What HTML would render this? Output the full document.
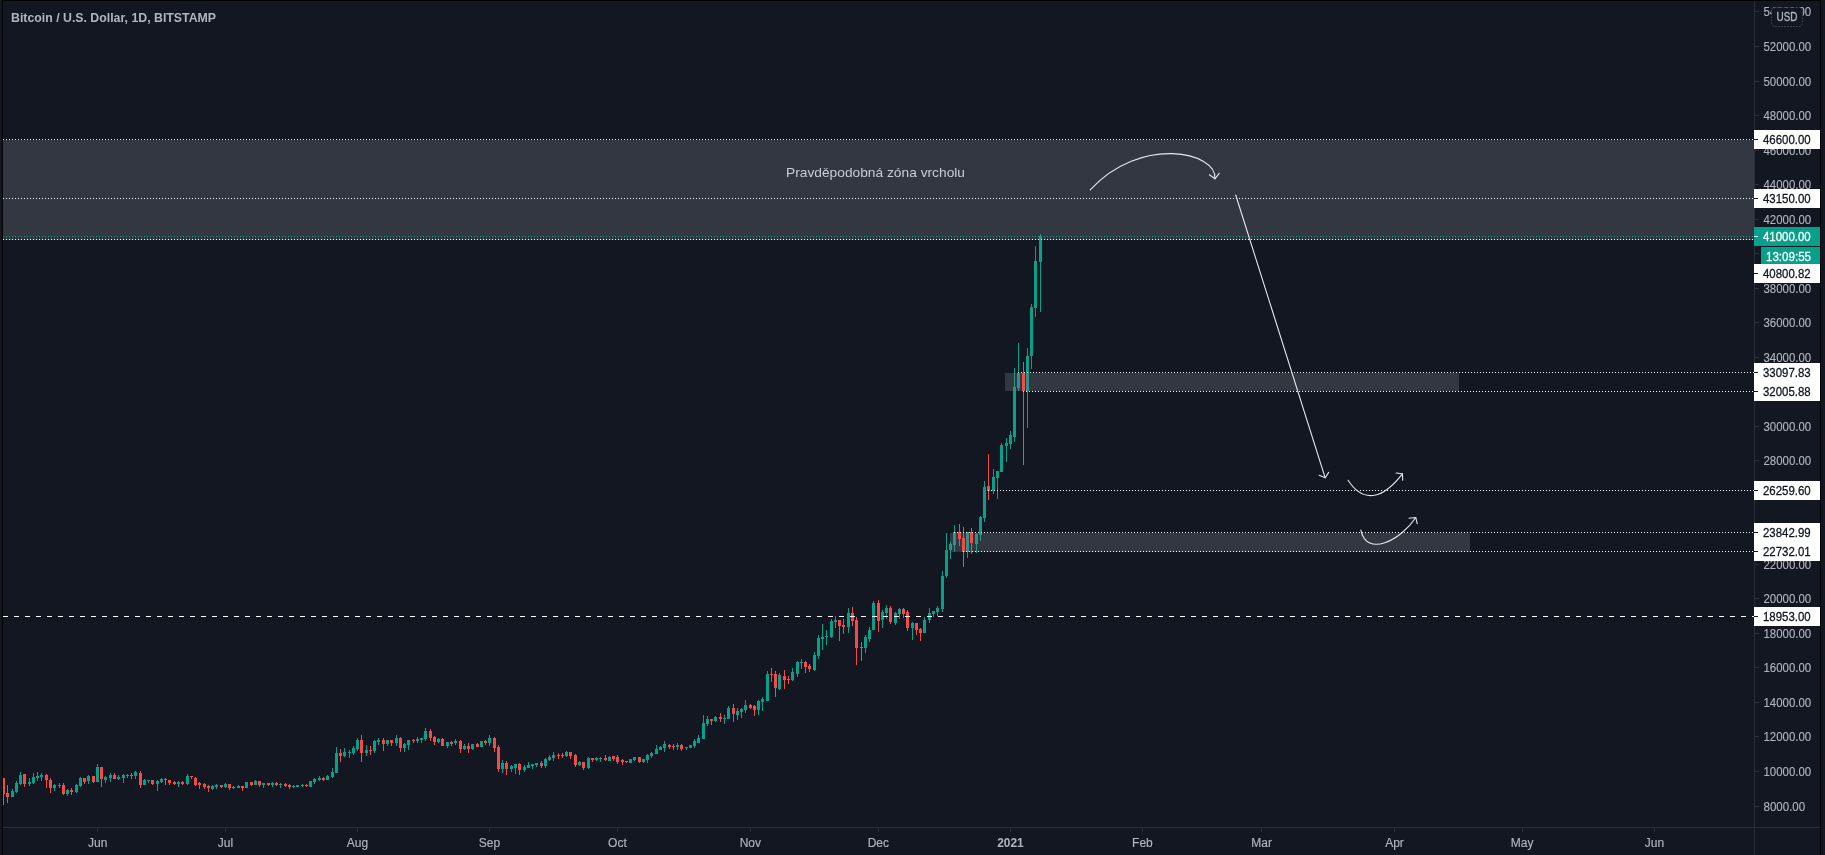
<!DOCTYPE html>
<html><head><meta charset="utf-8"><title>BTCUSD</title>
<style>
html,body{margin:0;padding:0;background:#131722;width:1825px;height:855px;overflow:hidden}
svg{position:absolute;left:0;top:0;display:block;will-change:transform}
text{font-family:"Liberation Sans",sans-serif}
</style></head><body>
<svg width="1825" height="855" viewBox="0 0 1825 855">
<rect x="0" y="0" width="1825" height="855" fill="#131722"/>

<g shape-rendering="crispEdges">
<rect x="12" y="789" width="1" height="8" fill="#08a08a"/>
<rect x="11" y="791" width="3" height="6" fill="#08a08a"/>
<rect x="16" y="781" width="1" height="12" fill="#08a08a"/>
<rect x="15" y="783" width="3" height="9" fill="#08a08a"/>
<rect x="20" y="772" width="1" height="13" fill="#08a08a"/>
<rect x="19" y="775" width="3" height="9" fill="#08a08a"/>
<rect x="29" y="778" width="1" height="8" fill="#08a08a"/>
<rect x="28" y="782" width="3" height="2" fill="#08a08a"/>
<rect x="33" y="773" width="1" height="11" fill="#08a08a"/>
<rect x="32" y="777" width="3" height="6" fill="#08a08a"/>
<rect x="37" y="772" width="1" height="9" fill="#08a08a"/>
<rect x="36" y="776" width="3" height="2" fill="#08a08a"/>
<rect x="41" y="773" width="1" height="8" fill="#08a08a"/>
<rect x="40" y="775" width="3" height="2" fill="#08a08a"/>
<rect x="54" y="784" width="1" height="7" fill="#08a08a"/>
<rect x="53" y="785" width="3" height="3" fill="#08a08a"/>
<rect x="59" y="783" width="1" height="5" fill="#08a08a"/>
<rect x="58" y="785" width="3" height="1" fill="#08a08a"/>
<rect x="67" y="789" width="1" height="7" fill="#08a08a"/>
<rect x="66" y="790" width="3" height="4" fill="#08a08a"/>
<rect x="76" y="784" width="1" height="9" fill="#08a08a"/>
<rect x="75" y="785" width="3" height="7" fill="#08a08a"/>
<rect x="80" y="777" width="1" height="10" fill="#08a08a"/>
<rect x="79" y="778" width="3" height="8" fill="#08a08a"/>
<rect x="88" y="775" width="1" height="9" fill="#08a08a"/>
<rect x="87" y="776" width="3" height="5" fill="#08a08a"/>
<rect x="97" y="764" width="1" height="18" fill="#08a08a"/>
<rect x="96" y="767" width="3" height="15" fill="#08a08a"/>
<rect x="105" y="776" width="1" height="7" fill="#08a08a"/>
<rect x="104" y="777" width="3" height="3" fill="#08a08a"/>
<rect x="110" y="773" width="1" height="9" fill="#08a08a"/>
<rect x="109" y="775" width="3" height="3" fill="#08a08a"/>
<rect x="118" y="775" width="1" height="5" fill="#08a08a"/>
<rect x="117" y="777" width="3" height="2" fill="#08a08a"/>
<rect x="123" y="774" width="1" height="9" fill="#08a08a"/>
<rect x="122" y="775" width="3" height="3" fill="#08a08a"/>
<rect x="127" y="774" width="1" height="4" fill="#08a08a"/>
<rect x="126" y="775" width="3" height="1" fill="#08a08a"/>
<rect x="135" y="771" width="1" height="8" fill="#08a08a"/>
<rect x="134" y="772" width="3" height="4" fill="#08a08a"/>
<rect x="144" y="779" width="1" height="6" fill="#08a08a"/>
<rect x="143" y="780" width="3" height="5" fill="#08a08a"/>
<rect x="148" y="780" width="1" height="3" fill="#08a08a"/>
<rect x="147" y="780" width="3" height="1" fill="#08a08a"/>
<rect x="157" y="780" width="1" height="11" fill="#08a08a"/>
<rect x="156" y="781" width="3" height="3" fill="#08a08a"/>
<rect x="161" y="778" width="1" height="5" fill="#08a08a"/>
<rect x="160" y="779" width="3" height="3" fill="#08a08a"/>
<rect x="178" y="781" width="1" height="6" fill="#08a08a"/>
<rect x="177" y="782" width="3" height="2" fill="#08a08a"/>
<rect x="187" y="774" width="1" height="11" fill="#08a08a"/>
<rect x="186" y="776" width="3" height="8" fill="#08a08a"/>
<rect x="212" y="785" width="1" height="5" fill="#08a08a"/>
<rect x="211" y="786" width="3" height="3" fill="#08a08a"/>
<rect x="216" y="784" width="1" height="5" fill="#08a08a"/>
<rect x="215" y="785" width="3" height="2" fill="#08a08a"/>
<rect x="225" y="783" width="1" height="5" fill="#08a08a"/>
<rect x="224" y="784" width="3" height="3" fill="#08a08a"/>
<rect x="238" y="785" width="1" height="3" fill="#08a08a"/>
<rect x="237" y="786" width="3" height="2" fill="#08a08a"/>
<rect x="246" y="782" width="1" height="6" fill="#08a08a"/>
<rect x="245" y="782" width="3" height="6" fill="#08a08a"/>
<rect x="255" y="780" width="1" height="5" fill="#08a08a"/>
<rect x="254" y="781" width="3" height="4" fill="#08a08a"/>
<rect x="263" y="783" width="1" height="5" fill="#08a08a"/>
<rect x="262" y="783" width="3" height="2" fill="#08a08a"/>
<rect x="272" y="782" width="1" height="5" fill="#08a08a"/>
<rect x="271" y="783" width="3" height="2" fill="#08a08a"/>
<rect x="280" y="783" width="1" height="5" fill="#08a08a"/>
<rect x="279" y="784" width="3" height="1" fill="#08a08a"/>
<rect x="293" y="785" width="1" height="3" fill="#08a08a"/>
<rect x="292" y="786" width="3" height="1" fill="#08a08a"/>
<rect x="297" y="785" width="1" height="2" fill="#08a08a"/>
<rect x="296" y="785" width="3" height="2" fill="#08a08a"/>
<rect x="302" y="784" width="1" height="3" fill="#08a08a"/>
<rect x="301" y="785" width="3" height="1" fill="#08a08a"/>
<rect x="310" y="781" width="1" height="6" fill="#08a08a"/>
<rect x="309" y="781" width="3" height="6" fill="#08a08a"/>
<rect x="314" y="778" width="1" height="6" fill="#08a08a"/>
<rect x="313" y="779" width="3" height="3" fill="#08a08a"/>
<rect x="319" y="776" width="1" height="5" fill="#08a08a"/>
<rect x="318" y="778" width="3" height="2" fill="#08a08a"/>
<rect x="327" y="775" width="1" height="5" fill="#08a08a"/>
<rect x="326" y="776" width="3" height="4" fill="#08a08a"/>
<rect x="332" y="768" width="1" height="10" fill="#08a08a"/>
<rect x="331" y="772" width="3" height="5" fill="#08a08a"/>
<rect x="336" y="747" width="1" height="26" fill="#08a08a"/>
<rect x="335" y="753" width="3" height="20" fill="#08a08a"/>
<rect x="344" y="748" width="1" height="9" fill="#08a08a"/>
<rect x="343" y="752" width="3" height="4" fill="#08a08a"/>
<rect x="349" y="750" width="1" height="8" fill="#08a08a"/>
<rect x="348" y="752" width="3" height="1" fill="#08a08a"/>
<rect x="353" y="746" width="1" height="9" fill="#08a08a"/>
<rect x="352" y="748" width="3" height="5" fill="#08a08a"/>
<rect x="357" y="738" width="1" height="13" fill="#08a08a"/>
<rect x="356" y="740" width="3" height="9" fill="#08a08a"/>
<rect x="366" y="745" width="1" height="11" fill="#08a08a"/>
<rect x="365" y="750" width="3" height="3" fill="#08a08a"/>
<rect x="374" y="740" width="1" height="13" fill="#08a08a"/>
<rect x="373" y="741" width="3" height="10" fill="#08a08a"/>
<rect x="378" y="738" width="1" height="7" fill="#08a08a"/>
<rect x="377" y="740" width="3" height="2" fill="#08a08a"/>
<rect x="387" y="740" width="1" height="6" fill="#08a08a"/>
<rect x="386" y="740" width="3" height="4" fill="#08a08a"/>
<rect x="396" y="735" width="1" height="11" fill="#08a08a"/>
<rect x="395" y="738" width="3" height="5" fill="#08a08a"/>
<rect x="404" y="743" width="1" height="9" fill="#08a08a"/>
<rect x="403" y="744" width="3" height="4" fill="#08a08a"/>
<rect x="408" y="740" width="1" height="10" fill="#08a08a"/>
<rect x="407" y="740" width="3" height="5" fill="#08a08a"/>
<rect x="417" y="737" width="1" height="6" fill="#08a08a"/>
<rect x="416" y="739" width="3" height="2" fill="#08a08a"/>
<rect x="421" y="738" width="1" height="5" fill="#08a08a"/>
<rect x="420" y="738" width="3" height="2" fill="#08a08a"/>
<rect x="425" y="728" width="1" height="13" fill="#08a08a"/>
<rect x="424" y="731" width="3" height="8" fill="#08a08a"/>
<rect x="438" y="738" width="1" height="5" fill="#08a08a"/>
<rect x="437" y="739" width="3" height="3" fill="#08a08a"/>
<rect x="447" y="742" width="1" height="6" fill="#08a08a"/>
<rect x="446" y="742" width="3" height="4" fill="#08a08a"/>
<rect x="455" y="739" width="1" height="6" fill="#08a08a"/>
<rect x="454" y="741" width="3" height="2" fill="#08a08a"/>
<rect x="464" y="744" width="1" height="6" fill="#08a08a"/>
<rect x="463" y="746" width="3" height="3" fill="#08a08a"/>
<rect x="472" y="744" width="1" height="6" fill="#08a08a"/>
<rect x="471" y="744" width="3" height="5" fill="#08a08a"/>
<rect x="481" y="741" width="1" height="6" fill="#08a08a"/>
<rect x="480" y="741" width="3" height="6" fill="#08a08a"/>
<rect x="489" y="735" width="1" height="11" fill="#08a08a"/>
<rect x="488" y="738" width="3" height="5" fill="#08a08a"/>
<rect x="502" y="760" width="1" height="13" fill="#08a08a"/>
<rect x="501" y="763" width="3" height="6" fill="#08a08a"/>
<rect x="511" y="765" width="1" height="7" fill="#08a08a"/>
<rect x="510" y="766" width="3" height="3" fill="#08a08a"/>
<rect x="515" y="764" width="1" height="10" fill="#08a08a"/>
<rect x="514" y="764" width="3" height="4" fill="#08a08a"/>
<rect x="524" y="765" width="1" height="7" fill="#08a08a"/>
<rect x="523" y="767" width="3" height="3" fill="#08a08a"/>
<rect x="528" y="762" width="1" height="6" fill="#08a08a"/>
<rect x="527" y="765" width="3" height="3" fill="#08a08a"/>
<rect x="532" y="764" width="1" height="5" fill="#08a08a"/>
<rect x="531" y="764" width="3" height="2" fill="#08a08a"/>
<rect x="536" y="763" width="1" height="4" fill="#08a08a"/>
<rect x="535" y="763" width="3" height="2" fill="#08a08a"/>
<rect x="545" y="758" width="1" height="10" fill="#08a08a"/>
<rect x="544" y="759" width="3" height="7" fill="#08a08a"/>
<rect x="549" y="755" width="1" height="6" fill="#08a08a"/>
<rect x="548" y="757" width="3" height="3" fill="#08a08a"/>
<rect x="553" y="752" width="1" height="9" fill="#08a08a"/>
<rect x="552" y="755" width="3" height="3" fill="#08a08a"/>
<rect x="566" y="751" width="1" height="6" fill="#08a08a"/>
<rect x="565" y="752" width="3" height="4" fill="#08a08a"/>
<rect x="579" y="761" width="1" height="5" fill="#08a08a"/>
<rect x="578" y="762" width="3" height="3" fill="#08a08a"/>
<rect x="588" y="757" width="1" height="12" fill="#08a08a"/>
<rect x="587" y="758" width="3" height="10" fill="#08a08a"/>
<rect x="596" y="757" width="1" height="4" fill="#08a08a"/>
<rect x="595" y="758" width="3" height="2" fill="#08a08a"/>
<rect x="600" y="757" width="1" height="5" fill="#08a08a"/>
<rect x="599" y="758" width="3" height="1" fill="#08a08a"/>
<rect x="609" y="756" width="1" height="5" fill="#08a08a"/>
<rect x="608" y="757" width="3" height="4" fill="#08a08a"/>
<rect x="630" y="759" width="1" height="4" fill="#08a08a"/>
<rect x="629" y="759" width="3" height="4" fill="#08a08a"/>
<rect x="634" y="757" width="1" height="4" fill="#08a08a"/>
<rect x="633" y="757" width="3" height="3" fill="#08a08a"/>
<rect x="643" y="759" width="1" height="4" fill="#08a08a"/>
<rect x="642" y="759" width="3" height="3" fill="#08a08a"/>
<rect x="647" y="754" width="1" height="9" fill="#08a08a"/>
<rect x="646" y="755" width="3" height="5" fill="#08a08a"/>
<rect x="651" y="752" width="1" height="6" fill="#08a08a"/>
<rect x="650" y="753" width="3" height="3" fill="#08a08a"/>
<rect x="656" y="745" width="1" height="9" fill="#08a08a"/>
<rect x="655" y="749" width="3" height="5" fill="#08a08a"/>
<rect x="660" y="746" width="1" height="4" fill="#08a08a"/>
<rect x="659" y="747" width="3" height="3" fill="#08a08a"/>
<rect x="664" y="741" width="1" height="11" fill="#08a08a"/>
<rect x="663" y="744" width="3" height="4" fill="#08a08a"/>
<rect x="677" y="743" width="1" height="7" fill="#08a08a"/>
<rect x="676" y="745" width="3" height="2" fill="#08a08a"/>
<rect x="686" y="747" width="1" height="3" fill="#08a08a"/>
<rect x="685" y="747" width="3" height="1" fill="#08a08a"/>
<rect x="690" y="745" width="1" height="3" fill="#08a08a"/>
<rect x="689" y="745" width="3" height="3" fill="#08a08a"/>
<rect x="694" y="739" width="1" height="9" fill="#08a08a"/>
<rect x="693" y="741" width="3" height="5" fill="#08a08a"/>
<rect x="698" y="735" width="1" height="8" fill="#08a08a"/>
<rect x="697" y="738" width="3" height="5" fill="#08a08a"/>
<rect x="703" y="715" width="1" height="24" fill="#08a08a"/>
<rect x="702" y="723" width="3" height="16" fill="#08a08a"/>
<rect x="707" y="716" width="1" height="10" fill="#08a08a"/>
<rect x="706" y="719" width="3" height="5" fill="#08a08a"/>
<rect x="715" y="716" width="1" height="6" fill="#08a08a"/>
<rect x="714" y="717" width="3" height="4" fill="#08a08a"/>
<rect x="724" y="715" width="1" height="9" fill="#08a08a"/>
<rect x="723" y="718" width="3" height="1" fill="#08a08a"/>
<rect x="728" y="706" width="1" height="13" fill="#08a08a"/>
<rect x="727" y="708" width="3" height="11" fill="#08a08a"/>
<rect x="737" y="708" width="1" height="12" fill="#08a08a"/>
<rect x="736" y="711" width="3" height="4" fill="#08a08a"/>
<rect x="741" y="708" width="1" height="10" fill="#08a08a"/>
<rect x="740" y="709" width="3" height="3" fill="#08a08a"/>
<rect x="745" y="700" width="1" height="13" fill="#08a08a"/>
<rect x="744" y="705" width="3" height="5" fill="#08a08a"/>
<rect x="758" y="700" width="1" height="15" fill="#08a08a"/>
<rect x="757" y="701" width="3" height="9" fill="#08a08a"/>
<rect x="762" y="697" width="1" height="14" fill="#08a08a"/>
<rect x="761" y="699" width="3" height="3" fill="#08a08a"/>
<rect x="767" y="671" width="1" height="30" fill="#08a08a"/>
<rect x="766" y="674" width="3" height="27" fill="#08a08a"/>
<rect x="779" y="673" width="1" height="17" fill="#08a08a"/>
<rect x="778" y="675" width="3" height="14" fill="#08a08a"/>
<rect x="792" y="668" width="1" height="13" fill="#08a08a"/>
<rect x="791" y="672" width="3" height="8" fill="#08a08a"/>
<rect x="797" y="661" width="1" height="16" fill="#08a08a"/>
<rect x="796" y="662" width="3" height="12" fill="#08a08a"/>
<rect x="801" y="659" width="1" height="10" fill="#08a08a"/>
<rect x="800" y="662" width="3" height="1" fill="#08a08a"/>
<rect x="814" y="652" width="1" height="19" fill="#08a08a"/>
<rect x="813" y="655" width="3" height="15" fill="#08a08a"/>
<rect x="818" y="635" width="1" height="24" fill="#08a08a"/>
<rect x="817" y="638" width="3" height="18" fill="#08a08a"/>
<rect x="822" y="624" width="1" height="26" fill="#08a08a"/>
<rect x="821" y="637" width="3" height="2" fill="#08a08a"/>
<rect x="826" y="630" width="1" height="15" fill="#08a08a"/>
<rect x="825" y="636" width="3" height="1" fill="#08a08a"/>
<rect x="831" y="619" width="1" height="19" fill="#08a08a"/>
<rect x="830" y="621" width="3" height="16" fill="#08a08a"/>
<rect x="835" y="616" width="1" height="12" fill="#08a08a"/>
<rect x="834" y="620" width="3" height="2" fill="#08a08a"/>
<rect x="848" y="608" width="1" height="25" fill="#08a08a"/>
<rect x="847" y="613" width="3" height="14" fill="#08a08a"/>
<rect x="865" y="635" width="1" height="18" fill="#08a08a"/>
<rect x="864" y="637" width="3" height="11" fill="#08a08a"/>
<rect x="869" y="627" width="1" height="15" fill="#08a08a"/>
<rect x="868" y="630" width="3" height="9" fill="#08a08a"/>
<rect x="873" y="601" width="1" height="29" fill="#08a08a"/>
<rect x="872" y="603" width="3" height="27" fill="#08a08a"/>
<rect x="882" y="610" width="1" height="18" fill="#08a08a"/>
<rect x="881" y="612" width="3" height="8" fill="#08a08a"/>
<rect x="886" y="605" width="1" height="14" fill="#08a08a"/>
<rect x="885" y="608" width="3" height="5" fill="#08a08a"/>
<rect x="895" y="612" width="1" height="13" fill="#08a08a"/>
<rect x="894" y="613" width="3" height="10" fill="#08a08a"/>
<rect x="899" y="608" width="1" height="11" fill="#08a08a"/>
<rect x="898" y="609" width="3" height="5" fill="#08a08a"/>
<rect x="912" y="622" width="1" height="18" fill="#08a08a"/>
<rect x="911" y="623" width="3" height="5" fill="#08a08a"/>
<rect x="924" y="617" width="1" height="16" fill="#08a08a"/>
<rect x="923" y="620" width="3" height="13" fill="#08a08a"/>
<rect x="929" y="608" width="1" height="15" fill="#08a08a"/>
<rect x="928" y="613" width="3" height="7" fill="#08a08a"/>
<rect x="933" y="611" width="1" height="6" fill="#08a08a"/>
<rect x="932" y="611" width="3" height="3" fill="#08a08a"/>
<rect x="937" y="606" width="1" height="10" fill="#08a08a"/>
<rect x="936" y="608" width="3" height="4" fill="#08a08a"/>
<rect x="942" y="571" width="1" height="41" fill="#08a08a"/>
<rect x="941" y="576" width="3" height="33" fill="#08a08a"/>
<rect x="946" y="533" width="1" height="45" fill="#08a08a"/>
<rect x="945" y="550" width="3" height="26" fill="#08a08a"/>
<rect x="950" y="542" width="1" height="17" fill="#08a08a"/>
<rect x="949" y="544" width="3" height="6" fill="#08a08a"/>
<rect x="954" y="525" width="1" height="27" fill="#08a08a"/>
<rect x="953" y="532" width="3" height="13" fill="#08a08a"/>
<rect x="967" y="532" width="1" height="26" fill="#08a08a"/>
<rect x="966" y="532" width="3" height="20" fill="#08a08a"/>
<rect x="976" y="533" width="1" height="20" fill="#08a08a"/>
<rect x="975" y="534" width="3" height="10" fill="#08a08a"/>
<rect x="980" y="516" width="1" height="25" fill="#08a08a"/>
<rect x="979" y="517" width="3" height="18" fill="#08a08a"/>
<rect x="984" y="481" width="1" height="41" fill="#08a08a"/>
<rect x="983" y="487" width="3" height="31" fill="#08a08a"/>
<rect x="993" y="469" width="1" height="25" fill="#08a08a"/>
<rect x="992" y="477" width="3" height="14" fill="#08a08a"/>
<rect x="997" y="471" width="1" height="28" fill="#08a08a"/>
<rect x="996" y="471" width="3" height="7" fill="#08a08a"/>
<rect x="1001" y="443" width="1" height="29" fill="#08a08a"/>
<rect x="1000" y="445" width="3" height="27" fill="#08a08a"/>
<rect x="1006" y="438" width="1" height="24" fill="#08a08a"/>
<rect x="1005" y="443" width="3" height="3" fill="#08a08a"/>
<rect x="1010" y="431" width="1" height="18" fill="#08a08a"/>
<rect x="1009" y="435" width="3" height="9" fill="#08a08a"/>
<rect x="1014" y="368" width="1" height="74" fill="#08a08a"/>
<rect x="1013" y="387" width="3" height="50" fill="#08a08a"/>
<rect x="1018" y="343" width="1" height="48" fill="#08a08a"/>
<rect x="1017" y="373" width="3" height="15" fill="#08a08a"/>
<rect x="1027" y="348" width="1" height="80" fill="#08a08a"/>
<rect x="1026" y="356" width="3" height="35" fill="#08a08a"/>
<rect x="1031" y="304" width="1" height="65" fill="#08a08a"/>
<rect x="1030" y="307" width="3" height="49" fill="#08a08a"/>
<rect x="1035" y="246" width="1" height="71" fill="#08a08a"/>
<rect x="1034" y="261" width="3" height="47" fill="#08a08a"/>
<rect x="1040" y="234" width="1" height="78" fill="#08a08a"/>
<rect x="1039" y="236" width="3" height="26" fill="#08a08a"/>
</g>
<rect x="3" y="140" width="1751" height="100" fill="rgba(120,123,134,0.32)" shape-rendering="crispEdges"/>
<rect x="1005" y="373" width="454" height="18" fill="rgba(120,123,134,0.32)" shape-rendering="crispEdges"/>
<rect x="950" y="533" width="520" height="19" fill="rgba(120,123,134,0.32)" shape-rendering="crispEdges"/>
<g shape-rendering="crispEdges">
<rect x="3" y="778" width="1" height="27" fill="#f44a4a"/>
<rect x="2" y="778" width="3" height="16" fill="#f44a4a"/>
<rect x="7" y="785" width="1" height="18" fill="#f44a4a"/>
<rect x="6" y="793" width="3" height="4" fill="#f44a4a"/>
<rect x="24" y="774" width="1" height="13" fill="#f44a4a"/>
<rect x="23" y="774" width="3" height="10" fill="#f44a4a"/>
<rect x="46" y="774" width="1" height="14" fill="#f44a4a"/>
<rect x="45" y="775" width="3" height="5" fill="#f44a4a"/>
<rect x="50" y="778" width="1" height="15" fill="#f44a4a"/>
<rect x="49" y="780" width="3" height="8" fill="#f44a4a"/>
<rect x="63" y="783" width="1" height="12" fill="#f44a4a"/>
<rect x="62" y="785" width="3" height="9" fill="#f44a4a"/>
<rect x="71" y="788" width="1" height="7" fill="#f44a4a"/>
<rect x="70" y="790" width="3" height="2" fill="#f44a4a"/>
<rect x="84" y="778" width="1" height="6" fill="#f44a4a"/>
<rect x="83" y="778" width="3" height="4" fill="#f44a4a"/>
<rect x="93" y="776" width="1" height="7" fill="#f44a4a"/>
<rect x="92" y="776" width="3" height="6" fill="#f44a4a"/>
<rect x="101" y="767" width="1" height="20" fill="#f44a4a"/>
<rect x="100" y="767" width="3" height="12" fill="#f44a4a"/>
<rect x="114" y="773" width="1" height="6" fill="#f44a4a"/>
<rect x="113" y="775" width="3" height="4" fill="#f44a4a"/>
<rect x="131" y="773" width="1" height="6" fill="#f44a4a"/>
<rect x="130" y="775" width="3" height="1" fill="#f44a4a"/>
<rect x="140" y="771" width="1" height="17" fill="#f44a4a"/>
<rect x="139" y="773" width="3" height="12" fill="#f44a4a"/>
<rect x="152" y="780" width="1" height="5" fill="#f44a4a"/>
<rect x="151" y="780" width="3" height="4" fill="#f44a4a"/>
<rect x="165" y="778" width="1" height="7" fill="#f44a4a"/>
<rect x="164" y="779" width="3" height="1" fill="#f44a4a"/>
<rect x="169" y="780" width="1" height="5" fill="#f44a4a"/>
<rect x="168" y="780" width="3" height="3" fill="#f44a4a"/>
<rect x="174" y="781" width="1" height="4" fill="#f44a4a"/>
<rect x="173" y="782" width="3" height="2" fill="#f44a4a"/>
<rect x="182" y="781" width="1" height="4" fill="#f44a4a"/>
<rect x="181" y="782" width="3" height="2" fill="#f44a4a"/>
<rect x="191" y="776" width="1" height="3" fill="#f44a4a"/>
<rect x="190" y="776" width="3" height="1" fill="#f44a4a"/>
<rect x="195" y="777" width="1" height="9" fill="#f44a4a"/>
<rect x="194" y="778" width="3" height="7" fill="#f44a4a"/>
<rect x="199" y="782" width="1" height="7" fill="#f44a4a"/>
<rect x="198" y="783" width="3" height="2" fill="#f44a4a"/>
<rect x="204" y="783" width="1" height="6" fill="#f44a4a"/>
<rect x="203" y="784" width="3" height="3" fill="#f44a4a"/>
<rect x="208" y="785" width="1" height="7" fill="#f44a4a"/>
<rect x="207" y="786" width="3" height="2" fill="#f44a4a"/>
<rect x="221" y="785" width="1" height="3" fill="#f44a4a"/>
<rect x="220" y="785" width="3" height="2" fill="#f44a4a"/>
<rect x="229" y="784" width="1" height="6" fill="#f44a4a"/>
<rect x="228" y="784" width="3" height="4" fill="#f44a4a"/>
<rect x="233" y="786" width="1" height="3" fill="#f44a4a"/>
<rect x="232" y="787" width="3" height="1" fill="#f44a4a"/>
<rect x="242" y="786" width="1" height="5" fill="#f44a4a"/>
<rect x="241" y="786" width="3" height="2" fill="#f44a4a"/>
<rect x="251" y="782" width="1" height="4" fill="#f44a4a"/>
<rect x="250" y="782" width="3" height="3" fill="#f44a4a"/>
<rect x="259" y="781" width="1" height="6" fill="#f44a4a"/>
<rect x="258" y="781" width="3" height="4" fill="#f44a4a"/>
<rect x="268" y="783" width="1" height="3" fill="#f44a4a"/>
<rect x="267" y="783" width="3" height="2" fill="#f44a4a"/>
<rect x="276" y="782" width="1" height="4" fill="#f44a4a"/>
<rect x="275" y="783" width="3" height="2" fill="#f44a4a"/>
<rect x="285" y="783" width="1" height="4" fill="#f44a4a"/>
<rect x="284" y="784" width="3" height="2" fill="#f44a4a"/>
<rect x="289" y="784" width="1" height="5" fill="#f44a4a"/>
<rect x="288" y="785" width="3" height="2" fill="#f44a4a"/>
<rect x="306" y="784" width="1" height="3" fill="#f44a4a"/>
<rect x="305" y="785" width="3" height="1" fill="#f44a4a"/>
<rect x="323" y="777" width="1" height="4" fill="#f44a4a"/>
<rect x="322" y="778" width="3" height="2" fill="#f44a4a"/>
<rect x="340" y="749" width="1" height="13" fill="#f44a4a"/>
<rect x="339" y="753" width="3" height="3" fill="#f44a4a"/>
<rect x="361" y="735" width="1" height="27" fill="#f44a4a"/>
<rect x="360" y="740" width="3" height="13" fill="#f44a4a"/>
<rect x="370" y="746" width="1" height="9" fill="#f44a4a"/>
<rect x="369" y="750" width="3" height="1" fill="#f44a4a"/>
<rect x="383" y="738" width="1" height="13" fill="#f44a4a"/>
<rect x="382" y="740" width="3" height="4" fill="#f44a4a"/>
<rect x="391" y="740" width="1" height="6" fill="#f44a4a"/>
<rect x="390" y="740" width="3" height="3" fill="#f44a4a"/>
<rect x="400" y="737" width="1" height="15" fill="#f44a4a"/>
<rect x="399" y="738" width="3" height="10" fill="#f44a4a"/>
<rect x="413" y="739" width="1" height="4" fill="#f44a4a"/>
<rect x="412" y="740" width="3" height="1" fill="#f44a4a"/>
<rect x="430" y="729" width="1" height="12" fill="#f44a4a"/>
<rect x="429" y="731" width="3" height="7" fill="#f44a4a"/>
<rect x="434" y="736" width="1" height="9" fill="#f44a4a"/>
<rect x="433" y="737" width="3" height="5" fill="#f44a4a"/>
<rect x="442" y="738" width="1" height="8" fill="#f44a4a"/>
<rect x="441" y="739" width="3" height="7" fill="#f44a4a"/>
<rect x="451" y="741" width="1" height="5" fill="#f44a4a"/>
<rect x="450" y="742" width="3" height="2" fill="#f44a4a"/>
<rect x="460" y="740" width="1" height="13" fill="#f44a4a"/>
<rect x="459" y="741" width="3" height="8" fill="#f44a4a"/>
<rect x="468" y="743" width="1" height="10" fill="#f44a4a"/>
<rect x="467" y="746" width="3" height="3" fill="#f44a4a"/>
<rect x="477" y="743" width="1" height="4" fill="#f44a4a"/>
<rect x="476" y="744" width="3" height="3" fill="#f44a4a"/>
<rect x="485" y="740" width="1" height="5" fill="#f44a4a"/>
<rect x="484" y="741" width="3" height="2" fill="#f44a4a"/>
<rect x="494" y="737" width="1" height="15" fill="#f44a4a"/>
<rect x="493" y="738" width="3" height="10" fill="#f44a4a"/>
<rect x="498" y="745" width="1" height="27" fill="#f44a4a"/>
<rect x="497" y="747" width="3" height="22" fill="#f44a4a"/>
<rect x="506" y="761" width="1" height="14" fill="#f44a4a"/>
<rect x="505" y="763" width="3" height="6" fill="#f44a4a"/>
<rect x="519" y="763" width="1" height="12" fill="#f44a4a"/>
<rect x="518" y="764" width="3" height="6" fill="#f44a4a"/>
<rect x="541" y="761" width="1" height="7" fill="#f44a4a"/>
<rect x="540" y="763" width="3" height="3" fill="#f44a4a"/>
<rect x="558" y="753" width="1" height="6" fill="#f44a4a"/>
<rect x="557" y="755" width="3" height="1" fill="#f44a4a"/>
<rect x="562" y="753" width="1" height="5" fill="#f44a4a"/>
<rect x="561" y="755" width="3" height="1" fill="#f44a4a"/>
<rect x="570" y="752" width="1" height="7" fill="#f44a4a"/>
<rect x="569" y="752" width="3" height="4" fill="#f44a4a"/>
<rect x="575" y="754" width="1" height="13" fill="#f44a4a"/>
<rect x="574" y="755" width="3" height="10" fill="#f44a4a"/>
<rect x="583" y="762" width="1" height="8" fill="#f44a4a"/>
<rect x="582" y="762" width="3" height="6" fill="#f44a4a"/>
<rect x="592" y="758" width="1" height="4" fill="#f44a4a"/>
<rect x="591" y="758" width="3" height="2" fill="#f44a4a"/>
<rect x="605" y="755" width="1" height="6" fill="#f44a4a"/>
<rect x="604" y="758" width="3" height="2" fill="#f44a4a"/>
<rect x="613" y="756" width="1" height="5" fill="#f44a4a"/>
<rect x="612" y="756" width="3" height="3" fill="#f44a4a"/>
<rect x="617" y="755" width="1" height="9" fill="#f44a4a"/>
<rect x="616" y="757" width="3" height="5" fill="#f44a4a"/>
<rect x="622" y="759" width="1" height="6" fill="#f44a4a"/>
<rect x="621" y="760" width="3" height="2" fill="#f44a4a"/>
<rect x="626" y="761" width="1" height="2" fill="#f44a4a"/>
<rect x="625" y="761" width="3" height="1" fill="#f44a4a"/>
<rect x="639" y="757" width="1" height="6" fill="#f44a4a"/>
<rect x="638" y="757" width="3" height="5" fill="#f44a4a"/>
<rect x="669" y="744" width="1" height="5" fill="#f44a4a"/>
<rect x="668" y="745" width="3" height="2" fill="#f44a4a"/>
<rect x="673" y="744" width="1" height="6" fill="#f44a4a"/>
<rect x="672" y="746" width="3" height="1" fill="#f44a4a"/>
<rect x="681" y="744" width="1" height="7" fill="#f44a4a"/>
<rect x="680" y="745" width="3" height="4" fill="#f44a4a"/>
<rect x="711" y="719" width="1" height="6" fill="#f44a4a"/>
<rect x="710" y="719" width="3" height="2" fill="#f44a4a"/>
<rect x="720" y="713" width="1" height="9" fill="#f44a4a"/>
<rect x="719" y="717" width="3" height="2" fill="#f44a4a"/>
<rect x="733" y="704" width="1" height="18" fill="#f44a4a"/>
<rect x="732" y="708" width="3" height="6" fill="#f44a4a"/>
<rect x="750" y="704" width="1" height="5" fill="#f44a4a"/>
<rect x="749" y="705" width="3" height="3" fill="#f44a4a"/>
<rect x="754" y="705" width="1" height="11" fill="#f44a4a"/>
<rect x="753" y="706" width="3" height="4" fill="#f44a4a"/>
<rect x="771" y="668" width="1" height="14" fill="#f44a4a"/>
<rect x="770" y="674" width="3" height="1" fill="#f44a4a"/>
<rect x="775" y="671" width="1" height="26" fill="#f44a4a"/>
<rect x="774" y="674" width="3" height="14" fill="#f44a4a"/>
<rect x="784" y="670" width="1" height="19" fill="#f44a4a"/>
<rect x="783" y="676" width="3" height="4" fill="#f44a4a"/>
<rect x="788" y="676" width="1" height="8" fill="#f44a4a"/>
<rect x="787" y="679" width="3" height="1" fill="#f44a4a"/>
<rect x="805" y="661" width="1" height="12" fill="#f44a4a"/>
<rect x="804" y="662" width="3" height="5" fill="#f44a4a"/>
<rect x="809" y="664" width="1" height="8" fill="#f44a4a"/>
<rect x="808" y="666" width="3" height="3" fill="#f44a4a"/>
<rect x="839" y="620" width="1" height="21" fill="#f44a4a"/>
<rect x="838" y="620" width="3" height="6" fill="#f44a4a"/>
<rect x="843" y="619" width="1" height="15" fill="#f44a4a"/>
<rect x="842" y="625" width="3" height="2" fill="#f44a4a"/>
<rect x="852" y="607" width="1" height="19" fill="#f44a4a"/>
<rect x="851" y="613" width="3" height="8" fill="#f44a4a"/>
<rect x="856" y="617" width="1" height="48" fill="#f44a4a"/>
<rect x="855" y="620" width="3" height="28" fill="#f44a4a"/>
<rect x="861" y="642" width="1" height="19" fill="#f44a4a"/>
<rect x="860" y="647" width="3" height="1" fill="#f44a4a"/>
<rect x="878" y="600" width="1" height="32" fill="#f44a4a"/>
<rect x="877" y="603" width="3" height="18" fill="#f44a4a"/>
<rect x="890" y="606" width="1" height="18" fill="#f44a4a"/>
<rect x="889" y="608" width="3" height="14" fill="#f44a4a"/>
<rect x="903" y="608" width="1" height="10" fill="#f44a4a"/>
<rect x="902" y="609" width="3" height="5" fill="#f44a4a"/>
<rect x="907" y="610" width="1" height="21" fill="#f44a4a"/>
<rect x="906" y="612" width="3" height="16" fill="#f44a4a"/>
<rect x="916" y="623" width="1" height="12" fill="#f44a4a"/>
<rect x="915" y="623" width="3" height="7" fill="#f44a4a"/>
<rect x="920" y="628" width="1" height="13" fill="#f44a4a"/>
<rect x="919" y="629" width="3" height="4" fill="#f44a4a"/>
<rect x="959" y="524" width="1" height="22" fill="#f44a4a"/>
<rect x="958" y="532" width="3" height="7" fill="#f44a4a"/>
<rect x="963" y="527" width="1" height="40" fill="#f44a4a"/>
<rect x="962" y="538" width="3" height="14" fill="#f44a4a"/>
<rect x="971" y="528" width="1" height="26" fill="#f44a4a"/>
<rect x="970" y="532" width="3" height="11" fill="#f44a4a"/>
<rect x="988" y="454" width="1" height="46" fill="#f44a4a"/>
<rect x="987" y="486" width="3" height="5" fill="#f44a4a"/>
<rect x="1023" y="362" width="1" height="103" fill="#f44a4a"/>
<rect x="1022" y="373" width="3" height="18" fill="#f44a4a"/>
</g>
<line x1="3" y1="139.5" x2="1754" y2="139.5" stroke="#ffffff" stroke-width="1" stroke-dasharray="1 2" shape-rendering="crispEdges"/>
<line x1="3" y1="198.5" x2="1754" y2="198.5" stroke="#ffffff" stroke-width="1" stroke-dasharray="1 2" shape-rendering="crispEdges"/>
<line x1="3" y1="236.5" x2="1754" y2="236.5" stroke="#08a08a" stroke-width="1" stroke-dasharray="1 2" shape-rendering="crispEdges"/>
<line x1="3" y1="239.5" x2="1754" y2="239.5" stroke="#ffffff" stroke-width="1" stroke-dasharray="1 2" shape-rendering="crispEdges"/>
<line x1="1018" y1="372.5" x2="1754" y2="372.5" stroke="#ffffff" stroke-width="1" stroke-dasharray="1 2" shape-rendering="crispEdges"/>
<line x1="1023" y1="391.5" x2="1754" y2="391.5" stroke="#ffffff" stroke-width="1" stroke-dasharray="1 2" shape-rendering="crispEdges"/>
<line x1="988" y1="490.5" x2="1754" y2="490.5" stroke="#ffffff" stroke-width="1" stroke-dasharray="1 2" shape-rendering="crispEdges"/>
<line x1="954" y1="532.5" x2="1754" y2="532.5" stroke="#ffffff" stroke-width="1" stroke-dasharray="1 2" shape-rendering="crispEdges"/>
<line x1="963" y1="551.5" x2="1754" y2="551.5" stroke="#ffffff" stroke-width="1" stroke-dasharray="1 2" shape-rendering="crispEdges"/>
<line x1="3" y1="616.5" x2="1754" y2="616.5" stroke="#ffffff" stroke-width="1" stroke-dasharray="5 6" shape-rendering="crispEdges"/>
<text x="875.5" y="177" fill="#c8cbd2" font-size="13.6" text-anchor="middle" textLength="179" lengthAdjust="spacingAndGlyphs">Pravděpodobná zóna vrcholu</text>
<path d="M1090.2,189.8 C1140.6,134.9 1217.4,152.0 1214.9,178.8" stroke="#e6e8ee" stroke-width="1.1" fill="none" stroke-linecap="round" stroke-linejoin="round"/>
<path d="M1209.4,174.8 L1214.9,178.8 L1219.2,173.3" stroke="#e6e8ee" stroke-width="1.1" fill="none" stroke-linecap="round" stroke-linejoin="round"/>
<path d="M1235.7,195 L1325.2,477.8" stroke="#e6e8ee" stroke-width="1.1" fill="none" stroke-linecap="round" stroke-linejoin="round"/>
<path d="M1319.2,475.3 L1325.2,477.8 L1328.7,472.4" stroke="#e6e8ee" stroke-width="1.1" fill="none" stroke-linecap="round" stroke-linejoin="round"/>
<path d="M1348.1,480.3 C1364.2,505.0 1383.9,497.7 1402.4,473.8" stroke="#e6e8ee" stroke-width="1.1" fill="none" stroke-linecap="round" stroke-linejoin="round"/>
<path d="M1396.1,473 L1402.4,473.8 L1402.7,480.3" stroke="#e6e8ee" stroke-width="1.1" fill="none" stroke-linecap="round" stroke-linejoin="round"/>
<path d="M1360.8,530.1 C1366.8,557.7 1400.7,540.4 1415.8,517.5" stroke="#e6e8ee" stroke-width="1.1" fill="none" stroke-linecap="round" stroke-linejoin="round"/>
<path d="M1409,518.2 L1415.8,517.5 L1417.2,523.6" stroke="#e6e8ee" stroke-width="1.1" fill="none" stroke-linecap="round" stroke-linejoin="round"/>
<text x="11" y="22.3" fill="#b2b5be" font-size="13" font-weight="bold" textLength="205" lengthAdjust="spacingAndGlyphs">Bitcoin / U.S. Dollar, 1D, BITSTAMP</text>
<g shape-rendering="crispEdges">
<rect x="1754" y="1" width="1" height="854" fill="#2a2e39"/>
<rect x="3" y="827" width="1817" height="1" fill="#2a2e39"/>
<rect x="1755" y="806" width="4" height="1" fill="#2a2e39"/>
<rect x="1755" y="771" width="4" height="1" fill="#2a2e39"/>
<rect x="1755" y="736" width="4" height="1" fill="#2a2e39"/>
<rect x="1755" y="702" width="4" height="1" fill="#2a2e39"/>
<rect x="1755" y="667" width="4" height="1" fill="#2a2e39"/>
<rect x="1755" y="633" width="4" height="1" fill="#2a2e39"/>
<rect x="1755" y="598" width="4" height="1" fill="#2a2e39"/>
<rect x="1755" y="564" width="4" height="1" fill="#2a2e39"/>
<rect x="1755" y="529" width="4" height="1" fill="#2a2e39"/>
<rect x="1755" y="495" width="4" height="1" fill="#2a2e39"/>
<rect x="1755" y="460" width="4" height="1" fill="#2a2e39"/>
<rect x="1755" y="426" width="4" height="1" fill="#2a2e39"/>
<rect x="1755" y="391" width="4" height="1" fill="#2a2e39"/>
<rect x="1755" y="357" width="4" height="1" fill="#2a2e39"/>
<rect x="1755" y="322" width="4" height="1" fill="#2a2e39"/>
<rect x="1755" y="288" width="4" height="1" fill="#2a2e39"/>
<rect x="1755" y="253" width="4" height="1" fill="#2a2e39"/>
<rect x="1755" y="219" width="4" height="1" fill="#2a2e39"/>
<rect x="1755" y="184" width="4" height="1" fill="#2a2e39"/>
<rect x="1755" y="150" width="4" height="1" fill="#2a2e39"/>
<rect x="1755" y="115" width="4" height="1" fill="#2a2e39"/>
<rect x="1755" y="81" width="4" height="1" fill="#2a2e39"/>
<rect x="1755" y="46" width="4" height="1" fill="#2a2e39"/>
<rect x="1755" y="11" width="4" height="1" fill="#2a2e39"/>
</g>
<text x="1763.5" y="810.9" fill="#b2b5be" stroke="#b2b5be" stroke-width="0.12" font-size="12" textLength="41.699999999999996" lengthAdjust="spacingAndGlyphs">8000.00</text>
<text x="1763.5" y="775.9" fill="#b2b5be" stroke="#b2b5be" stroke-width="0.12" font-size="12" textLength="47.699999999999996" lengthAdjust="spacingAndGlyphs">10000.00</text>
<text x="1763.5" y="740.9" fill="#b2b5be" stroke="#b2b5be" stroke-width="0.12" font-size="12" textLength="47.699999999999996" lengthAdjust="spacingAndGlyphs">12000.00</text>
<text x="1763.5" y="706.9" fill="#b2b5be" stroke="#b2b5be" stroke-width="0.12" font-size="12" textLength="47.699999999999996" lengthAdjust="spacingAndGlyphs">14000.00</text>
<text x="1763.5" y="671.9" fill="#b2b5be" stroke="#b2b5be" stroke-width="0.12" font-size="12" textLength="47.699999999999996" lengthAdjust="spacingAndGlyphs">16000.00</text>
<text x="1763.5" y="637.9" fill="#b2b5be" stroke="#b2b5be" stroke-width="0.12" font-size="12" textLength="47.699999999999996" lengthAdjust="spacingAndGlyphs">18000.00</text>
<text x="1763.5" y="602.9" fill="#b2b5be" stroke="#b2b5be" stroke-width="0.12" font-size="12" textLength="47.699999999999996" lengthAdjust="spacingAndGlyphs">20000.00</text>
<text x="1763.5" y="568.9" fill="#b2b5be" stroke="#b2b5be" stroke-width="0.12" font-size="12" textLength="47.699999999999996" lengthAdjust="spacingAndGlyphs">22000.00</text>
<text x="1763.5" y="533.9" fill="#b2b5be" stroke="#b2b5be" stroke-width="0.12" font-size="12" textLength="47.699999999999996" lengthAdjust="spacingAndGlyphs">24000.00</text>
<text x="1763.5" y="499.9" fill="#b2b5be" stroke="#b2b5be" stroke-width="0.12" font-size="12" textLength="47.699999999999996" lengthAdjust="spacingAndGlyphs">26000.00</text>
<text x="1763.5" y="464.9" fill="#b2b5be" stroke="#b2b5be" stroke-width="0.12" font-size="12" textLength="47.699999999999996" lengthAdjust="spacingAndGlyphs">28000.00</text>
<text x="1763.5" y="430.9" fill="#b2b5be" stroke="#b2b5be" stroke-width="0.12" font-size="12" textLength="47.699999999999996" lengthAdjust="spacingAndGlyphs">30000.00</text>
<text x="1763.5" y="395.9" fill="#b2b5be" stroke="#b2b5be" stroke-width="0.12" font-size="12" textLength="47.699999999999996" lengthAdjust="spacingAndGlyphs">32000.00</text>
<text x="1763.5" y="361.9" fill="#b2b5be" stroke="#b2b5be" stroke-width="0.12" font-size="12" textLength="47.699999999999996" lengthAdjust="spacingAndGlyphs">34000.00</text>
<text x="1763.5" y="326.9" fill="#b2b5be" stroke="#b2b5be" stroke-width="0.12" font-size="12" textLength="47.699999999999996" lengthAdjust="spacingAndGlyphs">36000.00</text>
<text x="1763.5" y="292.9" fill="#b2b5be" stroke="#b2b5be" stroke-width="0.12" font-size="12" textLength="47.699999999999996" lengthAdjust="spacingAndGlyphs">38000.00</text>
<text x="1763.5" y="257.9" fill="#b2b5be" stroke="#b2b5be" stroke-width="0.12" font-size="12" textLength="47.699999999999996" lengthAdjust="spacingAndGlyphs">40000.00</text>
<text x="1763.5" y="223.9" fill="#b2b5be" stroke="#b2b5be" stroke-width="0.12" font-size="12" textLength="47.699999999999996" lengthAdjust="spacingAndGlyphs">42000.00</text>
<text x="1763.5" y="188.9" fill="#b2b5be" stroke="#b2b5be" stroke-width="0.12" font-size="12" textLength="47.699999999999996" lengthAdjust="spacingAndGlyphs">44000.00</text>
<text x="1763.5" y="154.9" fill="#b2b5be" stroke="#b2b5be" stroke-width="0.12" font-size="12" textLength="47.699999999999996" lengthAdjust="spacingAndGlyphs">46000.00</text>
<text x="1763.5" y="119.9" fill="#b2b5be" stroke="#b2b5be" stroke-width="0.12" font-size="12" textLength="47.699999999999996" lengthAdjust="spacingAndGlyphs">48000.00</text>
<text x="1763.5" y="85.9" fill="#b2b5be" stroke="#b2b5be" stroke-width="0.12" font-size="12" textLength="47.699999999999996" lengthAdjust="spacingAndGlyphs">50000.00</text>
<text x="1763.5" y="50.9" fill="#b2b5be" stroke="#b2b5be" stroke-width="0.12" font-size="12" textLength="47.699999999999996" lengthAdjust="spacingAndGlyphs">52000.00</text>
<text x="1763.5" y="15.9" fill="#b2b5be" stroke="#b2b5be" stroke-width="0.12" font-size="12" textLength="47.699999999999996" lengthAdjust="spacingAndGlyphs">54000.00</text>
<g shape-rendering="crispEdges">
<rect x="97" y="828" width="1" height="4" fill="#2a2e39"/>
<rect x="225" y="828" width="1" height="4" fill="#2a2e39"/>
<rect x="357" y="828" width="1" height="4" fill="#2a2e39"/>
<rect x="489" y="828" width="1" height="4" fill="#2a2e39"/>
<rect x="617" y="828" width="1" height="4" fill="#2a2e39"/>
<rect x="750" y="828" width="1" height="4" fill="#2a2e39"/>
<rect x="878" y="828" width="1" height="4" fill="#2a2e39"/>
<rect x="1010" y="828" width="1" height="4" fill="#2a2e39"/>
<rect x="1142" y="828" width="1" height="4" fill="#2a2e39"/>
<rect x="1261" y="828" width="1" height="4" fill="#2a2e39"/>
<rect x="1394" y="828" width="1" height="4" fill="#2a2e39"/>
<rect x="1522" y="828" width="1" height="4" fill="#2a2e39"/>
<rect x="1654" y="828" width="1" height="4" fill="#2a2e39"/>
</g>
<text x="97.7" y="847" fill="#b2b5be" stroke="#b2b5be" stroke-width="0.15" font-size="12" text-anchor="middle">Jun</text>
<text x="225.5" y="847" fill="#b2b5be" stroke="#b2b5be" stroke-width="0.15" font-size="12" text-anchor="middle">Jul</text>
<text x="357.4" y="847" fill="#b2b5be" stroke="#b2b5be" stroke-width="0.15" font-size="12" text-anchor="middle">Aug</text>
<text x="489.4" y="847" fill="#b2b5be" stroke="#b2b5be" stroke-width="0.15" font-size="12" text-anchor="middle">Sep</text>
<text x="617.4" y="847" fill="#b2b5be" stroke="#b2b5be" stroke-width="0.15" font-size="12" text-anchor="middle">Oct</text>
<text x="750.3" y="847" fill="#b2b5be" stroke="#b2b5be" stroke-width="0.15" font-size="12" text-anchor="middle">Nov</text>
<text x="878.3" y="847" fill="#b2b5be" stroke="#b2b5be" stroke-width="0.15" font-size="12" text-anchor="middle">Dec</text>
<text x="1010.5" y="847" fill="#b2b5be" font-size="12" text-anchor="middle" font-weight="bold" textLength="26.5" lengthAdjust="spacingAndGlyphs">2021</text>
<text x="1142.4" y="847" fill="#b2b5be" stroke="#b2b5be" stroke-width="0.15" font-size="12" text-anchor="middle">Feb</text>
<text x="1261.7" y="847" fill="#b2b5be" stroke="#b2b5be" stroke-width="0.15" font-size="12" text-anchor="middle">Mar</text>
<text x="1394.5" y="847" fill="#b2b5be" stroke="#b2b5be" stroke-width="0.15" font-size="12" text-anchor="middle">Apr</text>
<text x="1522.2" y="847" fill="#b2b5be" stroke="#b2b5be" stroke-width="0.15" font-size="12" text-anchor="middle">May</text>
<text x="1654.4" y="847" fill="#b2b5be" stroke="#b2b5be" stroke-width="0.15" font-size="12" text-anchor="middle">Jun</text>
<rect x="1771.5" y="7.5" width="31" height="19" rx="3.5" fill="#131722" stroke="#4a4d58" stroke-width="1" stroke-dasharray="1.5 1.5"/>
<text x="1787" y="21" fill="#b2b5be" stroke="#b2b5be" stroke-width="0.35" font-size="12" text-anchor="middle" textLength="21" lengthAdjust="spacingAndGlyphs">USD</text>
<rect x="1754" y="130" width="66" height="19" fill="#ffffff" shape-rendering="crispEdges"/>
<rect x="1754" y="139" width="4" height="1" fill="#131722" shape-rendering="crispEdges"/>
<text x="1763" y="144" fill="#131722" stroke="#131722" stroke-width="0.3" font-size="12" textLength="47.6" lengthAdjust="spacingAndGlyphs">46600.00</text>
<rect x="1754" y="189" width="66" height="19" fill="#ffffff" shape-rendering="crispEdges"/>
<rect x="1754" y="198" width="4" height="1" fill="#131722" shape-rendering="crispEdges"/>
<text x="1763" y="203" fill="#131722" stroke="#131722" stroke-width="0.3" font-size="12" textLength="47.6" lengthAdjust="spacingAndGlyphs">43150.00</text>
<rect x="1754" y="227" width="66" height="19" fill="#08a08a" shape-rendering="crispEdges"/>
<rect x="1754" y="236" width="4" height="1" fill="#ffffff" shape-rendering="crispEdges"/>
<text x="1763" y="241" fill="#ffffff" stroke="#ffffff" stroke-width="0.3" font-size="12" textLength="47.6" lengthAdjust="spacingAndGlyphs">41000.00</text>
<rect x="1761" y="247" width="59" height="17" fill="#08a08a" shape-rendering="crispEdges"/>
<text x="1766" y="261" fill="#ffffff" stroke="#ffffff" stroke-width="0.3" font-size="12" textLength="45" lengthAdjust="spacingAndGlyphs">13:09:55</text>
<rect x="1754" y="264" width="66" height="19" fill="#ffffff" shape-rendering="crispEdges"/>
<rect x="1754" y="273" width="4" height="1" fill="#131722" shape-rendering="crispEdges"/>
<text x="1763" y="278" fill="#131722" stroke="#131722" stroke-width="0.3" font-size="12" textLength="47.6" lengthAdjust="spacingAndGlyphs">40800.82</text>
<rect x="1754" y="363" width="66" height="19" fill="#ffffff" shape-rendering="crispEdges"/>
<rect x="1754" y="372" width="4" height="1" fill="#131722" shape-rendering="crispEdges"/>
<text x="1763" y="377" fill="#131722" stroke="#131722" stroke-width="0.3" font-size="12" textLength="47.6" lengthAdjust="spacingAndGlyphs">33097.83</text>
<rect x="1754" y="382" width="66" height="19" fill="#ffffff" shape-rendering="crispEdges"/>
<rect x="1754" y="391" width="4" height="1" fill="#131722" shape-rendering="crispEdges"/>
<text x="1763" y="396" fill="#131722" stroke="#131722" stroke-width="0.3" font-size="12" textLength="47.6" lengthAdjust="spacingAndGlyphs">32005.88</text>
<rect x="1754" y="481" width="66" height="19" fill="#ffffff" shape-rendering="crispEdges"/>
<rect x="1754" y="490" width="4" height="1" fill="#131722" shape-rendering="crispEdges"/>
<text x="1763" y="495" fill="#131722" stroke="#131722" stroke-width="0.3" font-size="12" textLength="47.6" lengthAdjust="spacingAndGlyphs">26259.60</text>
<rect x="1754" y="523" width="66" height="19" fill="#ffffff" shape-rendering="crispEdges"/>
<rect x="1754" y="532" width="4" height="1" fill="#131722" shape-rendering="crispEdges"/>
<text x="1763" y="537" fill="#131722" stroke="#131722" stroke-width="0.3" font-size="12" textLength="47.6" lengthAdjust="spacingAndGlyphs">23842.99</text>
<rect x="1754" y="542" width="66" height="19" fill="#ffffff" shape-rendering="crispEdges"/>
<rect x="1754" y="551" width="4" height="1" fill="#131722" shape-rendering="crispEdges"/>
<text x="1763" y="556" fill="#131722" stroke="#131722" stroke-width="0.3" font-size="12" textLength="47.6" lengthAdjust="spacingAndGlyphs">22732.01</text>
<rect x="1754" y="607" width="66" height="19" fill="#ffffff" shape-rendering="crispEdges"/>
<rect x="1754" y="616" width="4" height="1" fill="#131722" shape-rendering="crispEdges"/>
<text x="1763" y="621" fill="#131722" stroke="#131722" stroke-width="0.3" font-size="12" textLength="47.6" lengthAdjust="spacingAndGlyphs">18953.00</text>
<g shape-rendering="crispEdges">
<rect x="2" y="0" width="1819" height="1" fill="#000000"/>
<rect x="2" y="0" width="1" height="855" fill="#000000"/>
<rect x="1820" y="0" width="1" height="855" fill="#000000"/>
</g>
</svg>
</body></html>
